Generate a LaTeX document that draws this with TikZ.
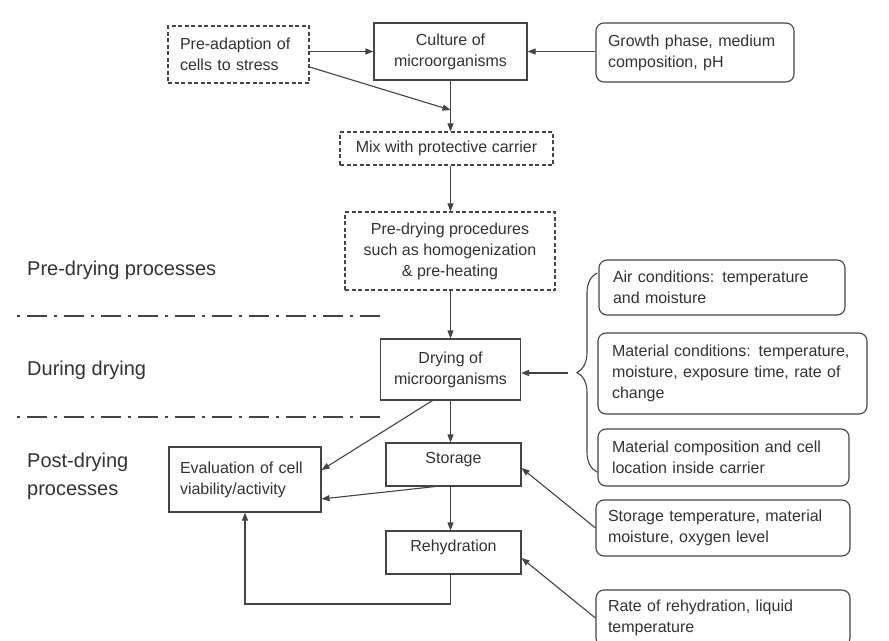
\documentclass[tikz,border=0pt]{standalone}
\usepackage{fontspec}
\setmainfont{Liberation Sans}
\usetikzlibrary{arrows.meta,decorations.pathreplacing}
\definecolor{ln}{HTML}{444444}
\definecolor{tx}{HTML}{333333}
\tikzset{
  base/.style={draw=ln, line width=1.1pt, text=tx, inner sep=0pt, font=\fontsize{16}{21}\selectfont},
  sbox/.style={base, rectangle},
  dbox/.style={base, rectangle, dashed, dash pattern=on 4pt off 2.5pt},
  rbox/.style={base, rectangle, rounded corners=8pt},
  arr/.style={draw=ln, line width=1.1pt, -{Triangle[length=8pt,width=6pt]}},
  lbl/.style={text=tx, anchor=west, align=left, inner sep=0pt, font=\fontsize{20}{28}\selectfont},
  sep/.style={draw=ln, line width=1.8pt, dash pattern=on 3pt off 7pt on 20pt off 7pt},
  uptext/.style={text height=11.5pt, text depth=13.5pt}
}
\begin{document}
\begin{tikzpicture}[x=1pt,y=-1pt]
\clip (0,0) rectangle (889,640);
\fill[white] (0,0) rectangle (889,640);

% left column labels
\node[lbl] (l1) at (27,270) {Pre-drying processes};
\node[lbl] (l2) at (27,370) {During drying};
\node[lbl] (l3) at (27,476) {Post-drying\\processes};
\draw[sep] (17,316) -- (383,316);
\draw[sep] (17,417) -- (383,417);

% main column
\node[dbox, minimum width=141pt, minimum height=57pt, text width=117pt, align=left] (pre) at (238.5,54.5) {Pre-adaption of\\cells to stress};
\node[sbox, minimum width=153pt, minimum height=57pt, align=center] (cult) at (450.5,51.5) {Culture of\\microorganisms};
\node[rbox, minimum width=198pt, minimum height=59pt, text width=174pt, align=left] (growth) at (695,52.5) {Growth phase, medium\\composition, pH};
\node[dbox, minimum width=213pt, minimum height=33pt, align=center] (mix) at (446.5,148.5) {Mix with protective carrier};
\node[dbox, minimum width=210pt, minimum height=78pt, align=center] (pred) at (450,251) {Pre-drying procedures\\such as homogenization\\\& pre-heating};
\node[sbox, minimum width=140pt, minimum height=61pt, align=center] (dry) at (450.5,369.5) {Drying of\\microorganisms};
\node[sbox, minimum width=152pt, minimum height=65pt, text width=130pt, align=left] (eval) at (245,479.5) {Evaluation of cell\\viability/activity};
\node[sbox, uptext, minimum width=135pt, minimum height=43pt] (stor) at (453.5,464.5) {Storage};
\node[sbox, uptext, minimum width=135pt, minimum height=43pt] (rehyd) at (453.5,552.5) {Rehydration};

% right column
\node[rbox, minimum width=246pt, minimum height=55pt, text width=218pt, align=left] (air) at (722,287.5) {Air conditions: temperature\\and moisture};
\node[rbox, minimum width=269pt, minimum height=81pt, text width=241pt, align=left] (matc) at (732.5,373.5) {Material conditions: temperature,\\moisture, exposure time, rate of\\change};
\node[rbox, minimum width=251pt, minimum height=57pt, text width=223pt, align=left] (matcomp) at (723.5,457.5) {Material composition and cell\\location inside carrier};
\node[rbox, minimum width=254pt, minimum height=56pt, text width=230pt, align=left] (stemp) at (723,528) {Storage temperature, material\\moisture, oxygen level};
\node[rbox, minimum width=254pt, minimum height=56pt, text width=230pt, align=left] (rate) at (723,618) {Rate of rehydration, liquid\\temperature};

% brace
\coordinate (bb) at (597,472);
\coordinate (bt) at (597,273);
\coordinate (btip) at (568,373);
\draw[draw=ln, line width=1.1pt, decorate, decoration={brace, amplitude=20pt, aspect=0.5}] (bb) -- (bt);

% connectors
\coordinate (j) at (450.5,110);
\coordinate (lp) at (450,604);
\draw[arr] (pre.east |- cult.west) -- (cult.west);
\draw[arr] (growth.west |- cult.east) -- (cult.east);
\draw[arr] ([yshift=-12.5pt]pre.east) -- (j);
\draw[arr] (cult.south) -- (cult.south |- mix.north);
\draw[arr] (cult.south |- mix.south) -- (cult.south |- pred.north);
\draw[arr] (cult.south |- pred.south) -- (cult.south |- dry.north);
\draw[arr] (btip) -- (dry.east |- btip);
\draw[arr] (dry.south) -- (dry.south |- stor.north);
\draw[arr] (dry.south |- stor.south) -- (dry.south |- rehyd.north);
\draw[arr] ([xshift=-18pt]dry.south) -- ([yshift=9.5pt]eval.east);
\draw[arr] ([xshift=-18.5pt]stor.south) -- ([yshift=-19.5pt]eval.east);
\draw[arr] (dry.south |- rehyd.south) -- (dry.south |- lp) -| (eval.south);
\draw[arr] (stemp.west) -- ([yshift=-3.5pt]stor.east);
\draw[arr] (rate.west) -- ([yshift=-5.5pt]rehyd.east);
\end{tikzpicture}
\end{document}
